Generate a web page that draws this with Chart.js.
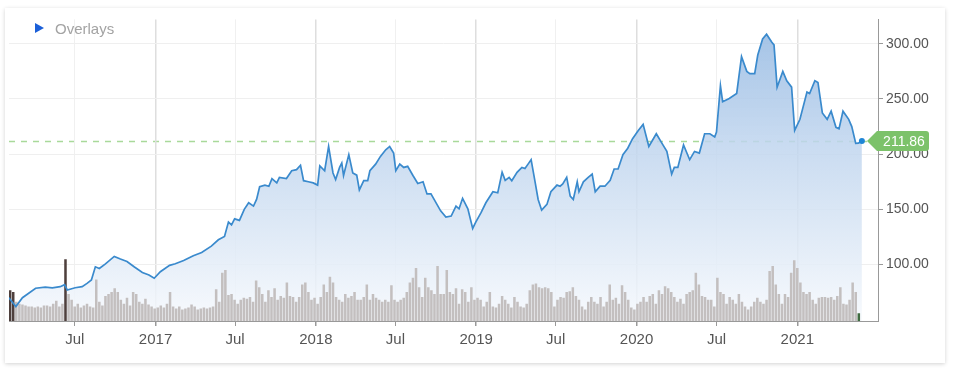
<!DOCTYPE html>
<html>
<head>
<meta charset="utf-8">
<script src="https://cdn.jsdelivr.net/npm/chart.js@4.4.0/dist/chart.umd.min.js"></script>
<style>
    body { margin: 0; background: #fff; font-family: Arial, "Liberation Sans", sans-serif; }
    #card { position: absolute; left: 5px; top: 8px; width: 940px; height: 355px; background: #fff;
            box-shadow: 0 1px 4px rgba(0,0,0,0.18); }
    #overlays { position: absolute; left: 30px; top: 12px; font-size: 15px; color: #a3a3a3; z-index: 2; }
    #overlays .tri { display: inline-block; width: 0; height: 0; border-left: 9px solid #1b5fd8;
                     border-top: 5px solid transparent; border-bottom: 5px solid transparent; margin-right: 11px;
                     vertical-align: 1px; }
    canvas { position: absolute; left: 0; top: 0; }
</style>
</head>
<body>
<div id="card">
    <div id="overlays"><span class="tri"></span>Overlays</div>
    <canvas id="stockChart" width="940" height="355"></canvas>
</div>
<script>
// Price (close)
const priceDates = [
    '2016-02-02','2016-02-18','2016-03-04','2016-04-03','2016-04-25','2016-05-11','2016-05-29','2016-06-08','2016-06-14','2016-07-02',
    '2016-07-18','2016-07-29','2016-08-08','2016-08-17','2016-08-26','2016-09-09','2016-09-29','2016-10-13','2016-10-28','2016-11-14',
    '2016-12-02','2016-12-17','2016-12-29','2017-01-12','2017-02-02','2017-02-15','2017-03-06','2017-03-28','2017-04-16','2017-05-08',
    '2017-05-24','2017-06-07','2017-06-16','2017-06-23','2017-06-30','2017-07-11','2017-07-22','2017-08-01','2017-08-12','2017-08-19',
    '2017-08-26','2017-09-07','2017-09-16','2017-09-23','2017-10-04','2017-10-10','2017-10-26','2017-11-07','2017-11-18','2017-11-27',
    '2017-12-04','2017-12-15','2017-12-26','2018-01-05','2018-01-10','2018-01-21','2018-01-30','2018-02-09','2018-02-15','2018-02-24',
    '2018-03-01','2018-03-05','2018-03-17','2018-03-26','2018-04-04','2018-04-10','2018-04-20','2018-04-29','2018-05-04','2018-05-17',
    '2018-05-28','2018-06-09','2018-06-18','2018-06-27','2018-07-02','2018-07-11','2018-07-20','2018-07-29','2018-08-10','2018-08-21',
    '2018-09-02','2018-09-11','2018-09-20','2018-10-12','2018-10-24','2018-11-05','2018-11-16','2018-11-23','2018-12-01','2018-12-13',
    '2018-12-24','2018-12-31','2019-01-12','2019-01-23','2019-02-08','2019-02-19','2019-03-01','2019-03-08','2019-03-17','2019-03-23',
    '2019-04-04','2019-04-15','2019-04-22','2019-04-29','2019-05-06','2019-05-15','2019-05-22','2019-05-30','2019-06-11','2019-06-20',
    '2019-07-04','2019-07-11','2019-07-17','2019-07-26','2019-08-03','2019-08-10','2019-08-19','2019-08-23','2019-09-02','2019-09-13',
    '2019-09-22','2019-09-29','2019-10-10','2019-10-21','2019-11-02','2019-11-11','2019-11-20','2019-12-01','2019-12-12','2019-12-23',
    '2020-01-05','2020-01-16','2020-01-29','2020-02-15','2020-02-28','2020-03-10','2020-03-21','2020-03-27','2020-04-04','2020-04-17',
    '2020-05-01','2020-05-12','2020-05-23','2020-06-04','2020-06-16','2020-06-27','2020-07-01','2020-07-10','2020-07-15','2020-07-30',
    '2020-08-16','2020-08-27','2020-09-08','2020-09-15','2020-09-26','2020-10-03','2020-10-14','2020-10-23','2020-11-04','2020-11-09',
    '2020-11-16','2020-11-29','2020-12-08','2020-12-19','2020-12-26','2021-01-07','2021-01-23','2021-01-29','2021-02-10','2021-02-17',
    '2021-02-27','2021-03-10','2021-03-19','2021-03-30','2021-04-06','2021-04-15','2021-04-28','2021-05-05','2021-05-14','2021-05-20',
    '2021-05-28'
];
const priceValues = [
    70, 62, 70, 78.6, 79.5, 79, 80, 81.8, 77, 79,
    80, 83, 86, 98, 96.5, 100.7, 107.4, 105, 102.8, 97.8,
    92.9, 90.6, 87.6, 93.5, 99.3, 100.7, 103.7, 108, 111, 116.7,
    122.5, 125.5, 138.5, 136, 141.4, 140, 150, 156, 153, 159,
    170.5, 172, 171, 177.8, 174, 179, 178, 185, 186, 190,
    176, 175, 174, 172, 189.4, 185, 207, 183, 177, 188,
    192, 180.7, 199.6, 183, 181, 167.6, 176, 176, 185, 191,
    198, 204, 207, 201, 185, 191, 188, 189, 180.7, 173.5,
    175, 164, 164, 148.7, 143, 144, 153, 150.5, 160, 150.5,
    132.7, 138.5, 147, 156, 166, 165, 183.6, 176.3, 179, 176,
    183.6, 188, 187, 191, 195, 175, 159, 149.3, 154.5, 166,
    172, 171, 173, 179, 162, 159, 175, 166, 175, 179,
    182, 166, 171, 171, 176.3, 186.6, 186.6, 199.6, 205.4, 214,
    221.5, 227, 207, 218.5, 209.8, 202.5, 182, 188, 188, 208.4,
    195, 202.5, 201, 218.5, 218.5, 215.6, 220, 262, 247.6, 250.5,
    255, 288.3, 275, 273, 273, 289.8, 304.4, 308.7, 301.4, 299,
    260.7, 275, 266.5, 260.7, 221.5, 231.6, 256.4, 255, 266.5, 265,
    237.4, 231.6, 239, 224.3, 223, 239, 231.6, 225, 209.8, 210,
    211.86
];

// Weekly volume (millions), first week starting volumeStart
const volumeStart = '2016-02-05';
const volumes = [
    16, 15, 10, 9, 8.5, 8, 7.5, 7.5, 7, 7.5,
    7, 8, 8, 7.5, 9, 10.5, 7.5, 9, 32, 14,
    11, 7.5, 9, 7, 8, 9, 7.5, 7, 21.5, 10,
    8, 13, 14, 15, 17, 15, 11, 9, 12, 8,
    15, 14, 10, 9, 11.5, 8.5, 7.5, 6.5, 7, 8,
    7, 9, 15, 7.5, 6.5, 7.5, 6, 6.5, 7, 8.5,
    7.5, 6, 6.5, 7, 6.5, 7, 7.5, 16.5, 10, 25,
    26.5, 13.5, 14, 11, 9, 11, 12, 11.5, 12.5, 10,
    21, 17.5, 14, 10, 16, 12.5, 17, 11, 13, 12,
    20, 13, 12.5, 10, 12.5, 19, 20, 15, 11, 12,
    9, 12.5, 19, 15, 23, 20, 12.5, 11, 10, 14,
    12, 13, 15, 11, 11, 12.5, 19, 11, 14, 12,
    11, 10, 11, 10, 18.5, 11, 10, 11, 12, 15,
    20, 22.5, 27.5, 17.5, 12.5, 22.5, 17.5, 16, 14, 28.5,
    14, 14, 26.5, 15, 14, 17, 9, 16.5, 15, 10,
    17.5, 11, 12, 11, 7.5, 10, 15, 7.5, 7, 9,
    13, 11, 9, 7, 12.5, 10, 7.5, 7, 9, 16,
    19, 19.5, 17.5, 17, 17.5, 17, 15, 7.5, 11, 12.5,
    12, 15, 15.5, 17.5, 13, 11, 7.5, 6, 10, 12.5,
    10, 9, 12.5, 7.5, 10, 19, 11, 12, 9, 18.5,
    15, 11, 7, 6, 9, 10, 12.5, 10, 13, 14,
    9, 16, 14, 18, 17, 15, 12.5, 10, 11.5, 9,
    14, 15, 16, 25, 19, 13, 12.5, 11, 11, 7.5,
    22.5, 15, 14, 9, 12.5, 11, 9, 14, 10, 7.5,
    6, 7.5, 10, 12, 10, 9, 11, 26, 28.5, 19,
    14, 9, 14, 12.5, 25, 31.5, 27.5, 20, 15, 14,
    15, 11, 9, 12, 12.5, 12.5, 12, 12.5, 11, 13,
    17.5, 9, 8.5, 11, 20, 15, 4
];
const darkVolumeWeeks = [0, 1, 18];

const xTickDates = ['2016-07-01','2017-01-01','2017-07-01','2018-01-01','2018-07-01','2019-01-01','2019-07-01','2020-01-01','2020-07-01','2021-01-01'];
const xTickLabels = ['Jul','2017','Jul','2018','Jul','2019','Jul','2020','Jul','2021'];
const priceTicks = [100, 150, 200, 250, 300];
const lastPrice = 211.86;

// days since 2016-01-01
function dayNum(s) {
    const [y, m, d] = s.split('-').map(Number);
    return (Date.UTC(y, m - 1, d) - Date.UTC(2016, 0, 1)) / 864e5;
}

Chart.defaults.font.family = 'Arial, "Liberation Sans", sans-serif';

const priceData = priceDates.map((d, i) => ({ x: dayNum(d), y: priceValues[i] }));
const volStartDay = dayNum(volumeStart);
const volumeData = volumes.map((v, i) => ({ x: volStartDay + i * 7, y: v }));

const lastPricePlugin = {
    id: 'lastPrice',
    beforeDraw(chart) {
        const { ctx, chartArea, scales } = chart;
        const y = Math.round(scales.y.getPixelForValue(lastPrice)) + 0.5;
        ctx.save();
        ctx.strokeStyle = '#a9d99a';
        ctx.lineWidth = 1.5;
        ctx.setLineDash([6, 6]);
        ctx.beginPath();
        ctx.moveTo(chartArea.left, y);
        ctx.lineTo(chartArea.right, y);
        ctx.stroke();
        ctx.restore();
    },
    afterDraw(chart) {
        const { ctx, chartArea, scales } = chart;
        const y = scales.y.getPixelForValue(lastPrice);
        const r = chartArea.right;
        ctx.save();
        ctx.fillStyle = '#7cc26a';
        ctx.beginPath();
        ctx.moveTo(r - 11, y);
        ctx.lineTo(r - 1, y - 10);
        ctx.lineTo(r + 48, y - 10);
        ctx.quadraticCurveTo(r + 51, y - 10, r + 51, y - 7);
        ctx.lineTo(r + 51, y + 7);
        ctx.quadraticCurveTo(r + 51, y + 10, r + 48, y + 10);
        ctx.lineTo(r - 1, y + 10);
        ctx.closePath();
        ctx.fill();
        ctx.fillStyle = '#ffffff';
        ctx.font = '14px Arial, "Liberation Sans", sans-serif';
        ctx.textAlign = 'center';
        ctx.textBaseline = 'middle';
        ctx.fillText(lastPrice.toFixed(2), r + 26, y + 1);
        ctx.restore();
    }
};

new Chart(document.getElementById('stockChart'), {
    data: {
        datasets: [{
            type: 'line',
            data: priceData,
            yAxisID: 'y',
            borderColor: '#3a8acd',
            borderWidth: 1.7,
            tension: 0,
            fill: 'start',
            backgroundColor: (context) => {
                const { ctx, chartArea } = context.chart;
                if (!chartArea) return 'rgba(160,190,228,0.5)';
                const g = ctx.createLinearGradient(0, chartArea.top, 0, chartArea.bottom);
                g.addColorStop(0, 'rgba(150,186,226,0.9)');
                g.addColorStop(0.4, 'rgba(190,212,238,0.85)');
                g.addColorStop(0.75, 'rgba(222,233,246,0.85)');
                g.addColorStop(1, 'rgba(246,249,253,0.85)');
                return g;
            },
            pointRadius: (c) => c.dataIndex === priceData.length - 1 ? 3 : 0,
            pointBackgroundColor: '#1f86d6',
            pointBorderWidth: 0,
            order: 0
        }, {
            type: 'bar',
            data: volumeData,
            yAxisID: 'yv',
            backgroundColor: (c) => {
                if (darkVolumeWeeks.includes(c.dataIndex)) return '#4e3f3c';
                if (c.dataIndex === volumeData.length - 1) return '#3f6b40';
                return '#c3bfbf';
            },
            barPercentage: 0.82,
            categoryPercentage: 1,
            order: 1
        }]
    },
    options: {
        responsive: false,
        animation: false,
        devicePixelRatio: 1,
        layout: { padding: { left: 1, top: 0, right: 0, bottom: 0 } },
        plugins: {
            legend: { display: false },
            tooltip: { enabled: false },
            filler: { drawTime: 'beforeDatasetsDraw' }
        },
        scales: {
            x: {
                type: 'linear',
                offset: false,
                min: 32.4,
                max: 2010.7,
                afterBuildTicks: (scale) => { scale.ticks = xTickDates.map(d => ({ value: dayNum(d) })); },
                afterFit: (scale) => { scale.height = 42; },
                ticks: {
                    autoSkip: false,
                    maxRotation: 0,
                    padding: 5,
                    color: '#555',
                    font: { size: 15 },
                    callback: (v, i) => xTickLabels[i]
                },
                grid: {
                    offset: false,
                    color: (c) => xTickLabels[c.index] === 'Jul' ? '#f0f0f0' : '#dedede',
                    lineWidth: (c) => xTickLabels[c.index] === 'Jul' ? 1 : 1.5,
                    tickColor: '#999',
                    tickLength: 5
                },
                border: { color: '#999' }
            },
            y: {
                position: 'right',
                min: 48.9,
                max: 322.1,
                afterBuildTicks: (scale) => { scale.ticks = priceTicks.map(v => ({ value: v })); },
                afterFit: (scale) => { scale.width = 67; },
                ticks: {
                    padding: 3,
                    color: '#555',
                    font: { size: 14 },
                    callback: (v) => Number(v).toFixed(2)
                },
                grid: { color: '#efefef', tickColor: '#999', tickLength: 5 },
                border: { color: '#999' }
            },
            yv: {
                display: false,
                min: 0,
                max: 156.5
            }
        }
    },
    plugins: [lastPricePlugin]
});
</script>
</body>
</html>
